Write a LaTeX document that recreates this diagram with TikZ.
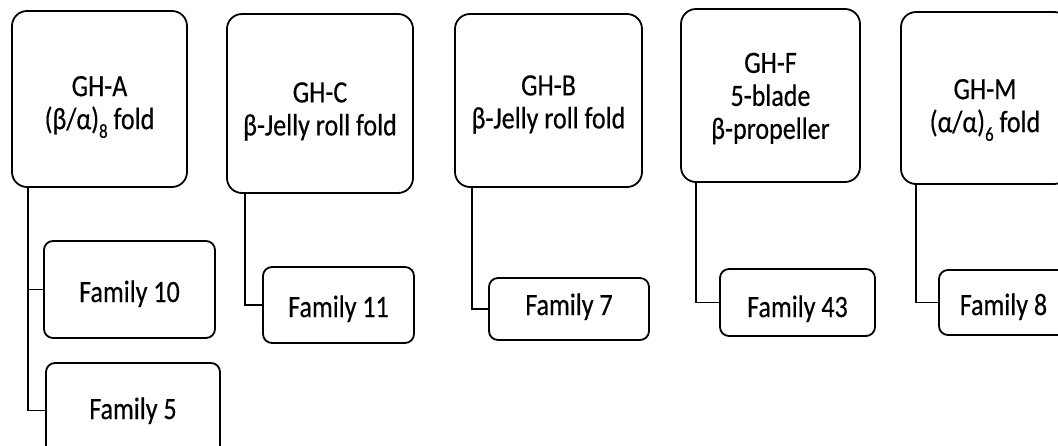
\documentclass[tikz,border=0pt]{standalone}
\usepackage{fontspec}
\setmainfont{Carlito}[FakeStretch=0.84, FakeBold=0.4]
\newcommand{\lowsub}[1]{\raisebox{-0.28em}{\fontsize{20}{20}\selectfont #1}}
\begin{document}
\begin{tikzpicture}[x=1pt,y=-1pt,
  foldbox/.style={draw, line width=1.8pt, rounded corners=15pt, inner sep=0pt},
  foldtext/.style={inner sep=0pt, align=center, font=\fontsize{31}{33}\selectfont},
  fambox/.style={draw, line width=1.8pt, rounded corners=9pt, inner sep=0pt,
    text depth=6pt, font=\fontsize{31}{33}\selectfont},
  link/.style={draw, line width=1.8pt},
  linkshade/.style={draw, line width=1.8pt, black!25}]
\useasboundingbox (0,0) rectangle (1058,445);

% fold groups: frame, then caption inside it
\node[foldbox, minimum width=175pt, minimum height=176pt] (ghA) at (99.5,99) {};
\node[foldtext] (tA) at ([yshift=-8pt]ghA.center) {GH-A\\(β/α)\lowsub{8} fold};
\node[foldbox, minimum width=186pt, minimum height=179pt] (ghC) at (320,103.5) {};
\node[foldtext] (tC) at ([yshift=-8pt]ghC.center) {GH-C\\β-Jelly roll fold};
\node[foldbox, minimum width=187pt, minimum height=173pt] (ghB) at (548.5,100.5) {};
\node[foldtext] (tB) at ([yshift=-4pt]ghB.center) {GH-B\\β-Jelly roll fold};
\node[foldbox, minimum width=179pt, minimum height=173pt] (ghF) at (770.5,95.5) {};
\node[foldtext] (tF) at ([yshift=-3pt]ghF.center) {GH-F\\5-blade\\β-propeller};
\node[foldbox, minimum width=168pt, minimum height=172pt] (ghM) at (985,98) {};
\node[foldtext] (tM) at ([yshift=-12pt]ghM.center) {GH-M\\(α/α)\lowsub{6} fold};

% families
\node[fambox, text height=31pt, minimum width=171pt, minimum height=97pt] (f10) at (129.5,289.5) {Family 10};
\node[fambox, text height=23pt, minimum width=174pt, minimum height=95pt] (f5) at (133,410.5) {Family 5};
\node[fambox, text height=30pt, minimum width=151pt, minimum height=76pt] (f11) at (338.5,305) {Family 11};
\node[fambox, text height=18pt, minimum width=160pt, minimum height=62pt] (f7) at (569,309) {Family 7};
\node[fambox, text height=35pt, minimum width=155pt, minimum height=67pt] (f43) at (797.5,302.5) {Family 43};
\node[fambox, text height=31pt, minimum width=129pt, minimum height=65pt] (f8) at (1003.5,302.5) {Family 8};

% soft shade under the elbow connectors
\begin{scope}[xshift=1pt, yshift=-1.5pt]
\draw[linkshade] ([xshift=17pt]ghA.south west) |- (f10.west);
\draw[linkshade] ([xshift=17pt]ghA.south west) |- (f5.west);
\draw[linkshade] ([xshift=19pt]ghC.south west) |- (f11.west);
\draw[linkshade] ([xshift=18pt]ghB.south west) |- (f7.west);
\draw[linkshade] ([xshift=16pt]ghF.south west) |- (f43.west);
\draw[linkshade] ([xshift=16pt]ghM.south west) |- (f8.west);
\end{scope}

% elbow connectors
\draw[link] ([xshift=17pt]ghA.south west) |- (f10.west);
\draw[link] ([xshift=17pt]ghA.south west) |- (f5.west);
\draw[link] ([xshift=19pt]ghC.south west) |- (f11.west);
\draw[link] ([xshift=18pt]ghB.south west) |- (f7.west);
\draw[link] ([xshift=16pt]ghF.south west) |- (f43.west);
\draw[link] ([xshift=16pt]ghM.south west) |- (f8.west);
\end{tikzpicture}
\end{document}
